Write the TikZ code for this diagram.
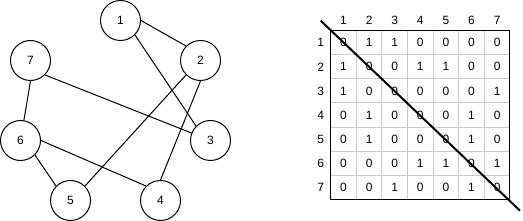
\documentclass[tikz,border=0pt]{standalone}
\usepackage{fontspec}
\setmainfont{Liberation Sans}
\begin{document}
\begin{tikzpicture}[x=1pt,y=-1pt,
  vert/.style={circle,draw=black,line width=1pt,minimum size=40pt,inner sep=0pt,font=\fontsize{12}{14}\selectfont},
  edge/.style={draw=black,line width=1pt},
  lbl/.style={inner sep=0pt,font=\fontsize{12}{14}\selectfont},
  gridline/.style={draw=black!20,line width=1pt},
  border/.style={draw=black,line width=1pt},
  diag/.style={draw=black,line width=2pt}]
\useasboundingbox (0,0) rectangle (523,221);
% graph
\node[vert] (n1) at (120.5,20.5) {1};
\node[vert] (n2) at (200.5,60.5) {2};
\node[vert] (n7) at (30.5,60.5) {7};
\node[vert] (n6) at (20.5,140.5) {6};
\node[vert] (n3) at (210.5,140.5) {3};
\node[vert] (n5) at (70.5,200.5) {5};
\node[vert] (n4) at (160.5,200.5) {4};
\draw[edge] (n1.east) -- (n2.north west);
\draw[edge] (n1.south east) -- (n3.north west);
\draw[edge] (n2.south west) -- (n5.north east);
\draw[edge] (n2.south) -- (n4.north);
\draw[edge] (n7.south east) -- (n3);
\draw[edge] (n7.south) -- (n6);
\draw[edge] (n6.south east) -- (n5.north west);
\draw[edge] (n6.east) -- (n4.north west);
% matrix
\def\xo{330.7}\def\yo{30.7}\def\cw{25.6}\def\ch{24.1}
\foreach \i in {1,...,6}{
  \draw[gridline] (\xo+\i*\cw,\yo) -- (\xo+\i*\cw,\yo+7*\ch);
  \draw[gridline] (\xo,\yo+\i*\ch) -- (\xo+7*\cw,\yo+\i*\ch);
}
\draw[border] (\xo,\yo) rectangle (\xo+7*\cw,\yo+7*\ch);
\foreach \i in {1,...,7}{
  \node[lbl] (c\i) at (\xo+\i*\cw-0.5*\cw,20.7) {\i};
  \node[lbl] (r\i) at (320.7,\yo+\i*\ch-0.5*\ch) {\i};
}
\foreach \row [count=\r] in {{0,1,1,0,0,0,0},{1,0,0,1,1,0,0},{1,0,0,0,0,0,1},{0,1,0,0,0,1,0},{0,1,0,0,0,1,0},{0,0,0,1,1,0,1},{0,0,1,0,0,1,0}}{
  \foreach \v [count=\c] in \row {
    \node[lbl] (m\r-\c) at (\xo+\c*\cw-0.5*\cw,\yo+\r*\ch-0.5*\ch) {\v};
  }
}
\coordinate (d1) at (320.7,20.7);
\coordinate (d2) at (520,210.7);
\draw[diag] (d1) -- (d2);
\end{tikzpicture}
\end{document}
